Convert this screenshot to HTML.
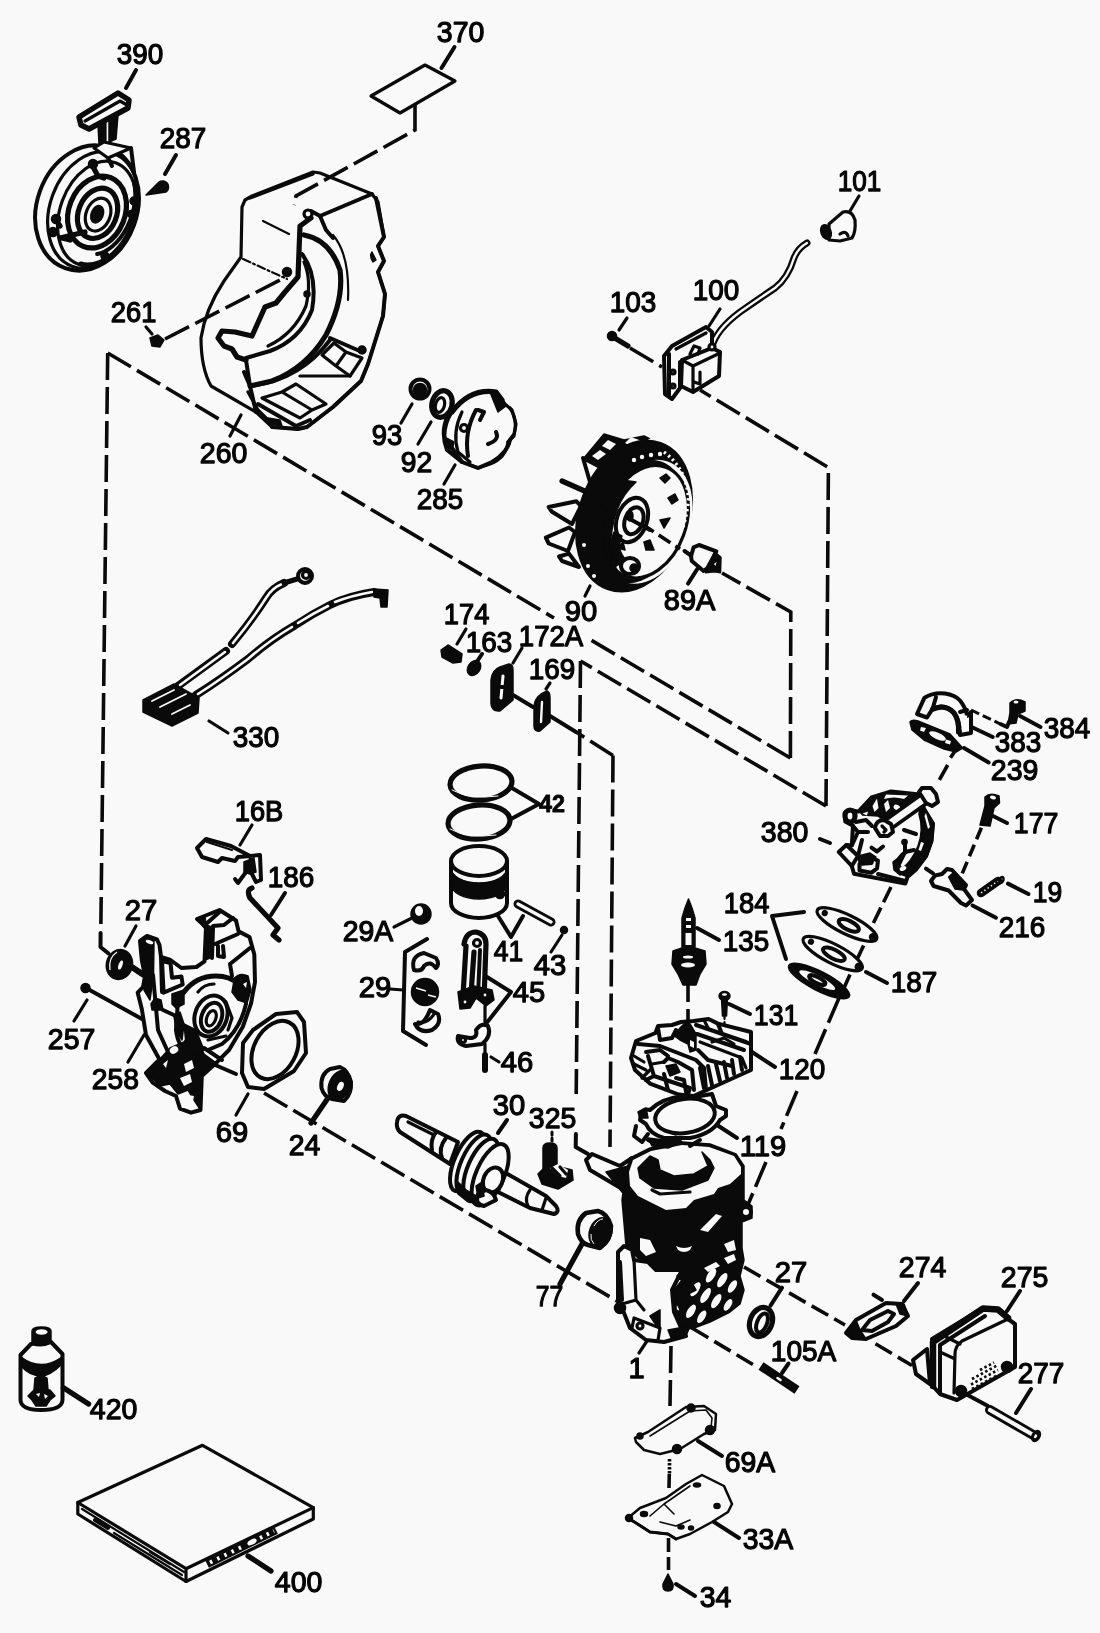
<!DOCTYPE html>
<html lang="en"><head><meta charset="utf-8"><title>Engine Parts Diagram</title>
<style>
html,body{margin:0;padding:0;background:#f9f9f9;}
svg{display:block;will-change:transform;}
text{font-family:"Liberation Sans",sans-serif;font-size:29px;fill:#050505;stroke:#050505;stroke-width:1.25px;stroke-linejoin:round;}
.l{fill:none;stroke:#0a0a0a;stroke-width:3.2;stroke-linecap:round;stroke-linejoin:round;}
.m{fill:none;stroke:#0a0a0a;stroke-width:4;stroke-linecap:round;stroke-linejoin:round;}
.h{fill:none;stroke:#0a0a0a;stroke-width:5.2;stroke-linecap:round;stroke-linejoin:round;}
.t{fill:none;stroke:#0a0a0a;stroke-width:2.2;stroke-linecap:round;stroke-linejoin:round;}
.d{fill:none;stroke:#0a0a0a;stroke-width:3.6;stroke-dasharray:27 7;}
.ds{fill:none;stroke:#0a0a0a;stroke-width:3.6;stroke-dasharray:17 6;}
.f{fill:#0a0a0a;stroke:#0a0a0a;stroke-width:1.5;stroke-linejoin:round;}
.w{fill:#f9f9f9;stroke:#0a0a0a;stroke-width:3.2;stroke-linejoin:round;stroke-linecap:round;}
.wt{fill:#f9f9f9;stroke:#0a0a0a;stroke-width:1.5;stroke-linejoin:round;}
.wm{fill:#f9f9f9;stroke:#0a0a0a;stroke-width:4;stroke-linejoin:round;}
.n{fill:#f9f9f9;stroke:none;}
</style></head><body>
<svg width="1100" height="1633" viewBox="0 0 1100 1633">
<rect width="1100" height="1633" fill="#f9f9f9"/>
<!-- 10_dash.svg -->
<g id="assembly-lines">
<path class="d" d="M107.7 353L100.8 930"/><path class="m" d="M100.6 933L100.5 947L108.5 953.5"/>
<path class="d" d="M107.7 353L554 618"/>
<path class="d" d="M790.4 758L590 639.5"/><path class="d" d="M790.4 758L790.8 612L722 573"/>
<path class="d" d="M826 806L580.5 661"/><path class="d" d="M826 806L828.4 467.5L700 390"/><path class="d" d="M580.5 661L576.2 1094"/><path class="m" d="M575.9 1134L575.7 1147L588 1154"/>
<path class="d" d="M613 755.5L576 732"/><path class="d" d="M613 755.5L610 1147"/>
<path class="ds" d="M956 749.5L950.5 757.7"/><path class="ds" d="M947.7 765L937 784"/>
<path class="ds" d="M891 887L868 934"/><path class="ds" d="M863.6 945.5L855.5 962.7"/><path class="ds" d="M850 974.5L842.7 991"/><path class="d" d="M839 998L815 1054"/>
<path class="d" d="M797 1091L781 1129"/>
<path class="d" d="M766 1162L747 1207"/>
<path class="ds" style="stroke-dasharray:12.5 6" d="M981.4 827.7L962 874"/>
<path class="d" d="M264 1093L622 1304"/>
<path class="d" style="stroke-dasharray:19 7" d="M744 1267L845 1325"/>
<path class="d" style="stroke-dasharray:19 7" d="M875.5 1343.8L912 1365.5"/>
<path class="d" style="stroke-dasharray:19 7" d="M692 1328L757 1367"/>
<path class="d" d="M671 1346L670 1406"/>
<path class="d" style="stroke-dasharray:2.5 1.5" d="M669.5 1459V1474"/><path class="d" d="M669.3 1474L669 1488"/>
<path class="d" style="stroke-dasharray:14 5" d="M668.5 1538V1570"/>
<path class="d" d="M688 975V1030"/>
<path class="ds" style="stroke-dasharray:9 4;stroke-width:3" d="M971 710L1001 724.3"/>
<path class="d" d="M630 348L662 367"/>
</g>
<!-- 20_recoil.svg -->
<g id="recoil-390">
<path class="m" d="M136 70L126 88"/>
<path class="m" d="M176 155L165 174"/>
<!-- handle -->
<path class="w" style="stroke-width:5.5" d="M79 117L118 93L129 100L128 108L89 129L81 125Z"/>
<path class="l" d="M85 121L120 101L127 105"/>
<path class="f" d="M98 124L104 121L105 143L99 144ZM109 119L118 115L116 139L109 142Z"/>
<path class="l" d="M105 122V142"/>
<!-- body -->
<g transform="rotate(20 87 208)">
<ellipse class="w" cx="87" cy="208" rx="50" ry="64" style="stroke-width:4"/>
</g>
<g transform="rotate(20 93 210)">
<ellipse class="l" cx="93" cy="210" rx="43" ry="60"/>
<ellipse class="l" cx="98" cy="212" rx="37" ry="54"/>
<path class="h" d="M130 184A37 54 0 0 1 100 265"/>
<path class="m" d="M122 170A30 48 0 0 1 112 250"/>
</g>
<path class="w" d="M94 148L104 142L131 148L108 158Z"/>
<path class="m" d="M131 148L134 172M108 158L112 166"/>
<!-- hub -->
<g transform="rotate(22 97 212)">
<ellipse class="h" cx="97" cy="212" rx="28" ry="37"/>
<ellipse class="h" cx="98" cy="213" rx="19" ry="26"/>
<ellipse class="l" cx="99" cy="214" rx="12" ry="17"/>
<ellipse class="f" cx="98" cy="214" rx="6" ry="9"/>
</g>
<path class="h" d="M92 165L98 176L104 178M70 240L62 238M56 220L60 226"/>
<circle class="f" cx="56" cy="219" r="4.5"/><circle class="f" cx="53" cy="232" r="4.5"/>
<circle class="f" cx="93" cy="164" r="4.5"/><circle class="f" cx="134" cy="201" r="4"/>
<circle class="f" cx="131" cy="214" r="3.5"/><circle class="f" cx="105" cy="256" r="4"/>
<path class="h" d="M60 238L85 232"/>
<!-- screw 287 -->
<path class="f" d="M146 195L159 182A5.5 5.5 0 1 1 166 192Z"/>
</g>
<!-- 21_housing.svg -->
<g id="housing-260">
<!-- outer silhouette -->
<path class="w" d="M242 207L245 200L252 196L313 172L320 173L372 194L378 202L384 237L378 246L384 261L378 272L385 294L383 316L368 364L361 381L333 407L307 427L298 429L272 427L256 412L211 386Q201 368 201 338Q205 310 224 281L241 257Z"/>
<!-- top face edges -->
<path class="m" d="M372 194L320 216L311 211"/>
<path class="l" d="M250 198L313 174"/>
<circle class="w" cx="308" cy="214" r="4"/>
<path class="m" d="M376 198L384 237L378 246L384 261L378 272L385 294L383 316L368 364L361 381L333 407L307 427L298 429L272 427"/>
<path class="f" d="M372 252Q369 256 373 262L376 260Z"/>
<!-- front opening thick -->
<path class="h" d="M311 218L300 226L298 277L285 292L276 303L265 307L252 336L235 332L222 331L218 338L224 346L232 349L237 357L246 360"/>
<path class="h" d="M304 235Q330 240 340 270Q344 300 326 335Q306 368 272 381L250 386"/>
<path class="m" d="M302 254Q318 275 312 310Q300 340 270 351L246 358"/>
<path class="l" d="M304 262Q312 280 306 306Q294 334 268 346"/>
<path class="t" d="M333 235Q350 255 348 300"/>
<path class="m" d="M320 216L326 230L333 238"/>
<path class="t" d="M263 221L289 234"/>
<path class="t" style="stroke-dasharray:8 3 2 3" d="M243 259L287 279"/>
<circle class="f" cx="287" cy="272" r="4.5"/>
<circle class="f" cx="307" cy="294" r="3"/>
<!-- lower section -->
<path class="m" d="M246 360L250 386L256 412M250 386L244 372"/>
<path class="l" d="M248 392L258 410L272 424"/>
<path class="m" d="M250 386Q300 380 330 340"/>
<path class="l" d="M322 355L334 343L346 352L336 366ZM336 366L350 376L362 358L346 352"/>
<path class="m" d="M330 338L362 352"/>
<circle class="f" cx="362" cy="350" r="4"/>
<path class="l" d="M262 398L300 418L312 410L282 392ZM282 392L296 384L326 404L312 410"/>
<path class="m" d="M258 404L296 426L310 420"/>
<path class="f" d="M268 418L280 420L282 426L270 424Z"/>
<path class="l" d="M300 376L350 376"/>
<!-- leader and screw 261 -->
<path class="l" d="M241 415L230 436"/>
<path class="f" d="M150 338L158 335L164 340L160 347L152 346Z"/>
<path class="l" d="M146 327L152 334"/>
</g>
<g id="decal-370">
<path class="w" d="M371 96L425 65L455 81L400 113Z"/>
<path class="m" d="M454.5 47L441.5 68"/>
<path class="d" d="M415 105V130L296 196L294 205"/>
<path class="d" d="M165 339L286 277"/>
</g>
<!-- 22_starter_cup.svg -->
<g id="nut-93">
<circle class="m" cx="420" cy="389" r="9.5"/>
<circle class="f" cx="420" cy="390" r="6.5"/>
<path class="l" d="M412 404L401 423"/>
</g>
<g id="washer-92">
<ellipse class="h" cx="442" cy="404" rx="10" ry="13.5" transform="rotate(15 442 404)"/>
<ellipse class="l" cx="440" cy="405" rx="4.5" ry="7.5" transform="rotate(15 440 405)"/>
<path class="l" d="M431 422L418 444"/>
</g>
<g id="cup-285">
<path class="w" d="M452 412Q470 388 496 392L505 404L512 410L516 424L514 436L508 442Q506 458 490 464L478 468L462 462L448 450Q440 432 452 412Z"/>
<path class="h" d="M452 412Q470 388 496 392L502 400"/>
<path class="f" d="M490 392L500 396L506 406L498 412L494 402Z"/>
<path class="m" d="M448 415Q440 432 447 450L462 462L478 468L492 462Q508 452 510 440"/>
<path class="l" d="M462 412Q452 432 458 452L470 462"/>
<path class="m" d="M476 410Q464 432 468 456"/>
<path class="l" d="M510 408Q518 420 514 434L508 442"/>
<circle class="l" cx="464" cy="428" r="3.5"/>
<path class="m" d="M447 440L452 448L462 462"/>
<path class="f" d="M446 438L454 442L452 450L446 446Z"/>
<path class="m" d="M478 410L484 412L480 420M496 432Q500 440 488 444"/>
<path class="l" d="M455 465L444 484"/>
</g>
<!-- 23_flywheel.svg -->
<g id="flywheel-90">
<!-- fan blades -->
<path class="f" d="M584 458L604 434L624 440L644 436L660 444L640 470L600 480Z"/>
<g class="n"><path d="M592 456L600 450L606 454L598 460Z"/><path d="M602 446L608 440L616 444L610 450Z"/><path d="M625 443L631 437L642 441L636 449Z"/><path d="M644 442L651 438L658 442L651 447Z"/><path d="M608 458L616 452L620 456L612 462Z"/></g>
<path class="wm" d="M583 458L590 482L604 469Z"/>
<path class="h" d="M562 481L588 492.5"/>
<path class="wm" d="M548.7 507L576.4 501.3L581 506L572 524L551.6 511.5Z"/>
<path class="wm" d="M545.8 537.6L569 527.5L575 532L568 551L548.7 543.5Z"/>
<path class="wm" d="M559 556.5L569 553.6L579 567L562 561Z"/>
<!-- rim -->
<g transform="rotate(20 634 516)">
<ellipse class="f" cx="634" cy="516" rx="55" ry="78"/>
</g>
<g transform="rotate(20 644 521)">
<ellipse class="n" cx="646" cy="521" rx="44" ry="64"/>
<ellipse class="f" cx="640" cy="523" rx="42" ry="63"/>
<ellipse class="w" cx="646" cy="521" rx="40" ry="58"/>
</g>
<!-- teeth on right edge -->
<path style="fill:none;stroke:#f9f9f9;stroke-width:3.4;stroke-dasharray:2.2 3.2" d="M664 452Q686 468 688.5 498Q686 536 662 562"/>
<!-- white dots on rim -->
<g fill="#f9f9f9"><circle cx="634" cy="460" r="2.2"/><circle cx="642" cy="457" r="2.2"/><circle cx="651" cy="455" r="2.2"/><circle cx="660" cy="454" r="2.2"/>
<circle cx="588" cy="566" r="2"/><circle cx="594" cy="576" r="2"/><circle cx="584" cy="545" r="2"/></g>
<!-- hub -->
<path class="f" d="M622 480Q604 500 604 540Q606 570 622 580Q606 560 612 530Q616 500 636 482Z"/>
<g transform="rotate(20 632 520)">
<ellipse class="m" cx="632" cy="520" rx="15" ry="23"/>
<ellipse class="m" cx="634" cy="520" rx="9" ry="14"/>
</g>
<path class="m" d="M628 518L650 530"/>
<ellipse class="f" cx="630" cy="516" rx="3" ry="5"/>
<ellipse class="m" cx="630" cy="566" rx="9" ry="8"/>
<circle class="f" cx="634" cy="568" r="4"/>
<path class="f" d="M614 532Q606 550 616 566L626 560Q616 550 622 536Z"/>
<!-- holes -->
<path class="f" d="M660 478l6-4 4 4-5 5zM668 498l7-4 3 6-6 4zM660 520l10-2-6 10zM644 542l6-2 4 10-8 0zM608 566l6-2 4 8-8 0zM618 548l5-6 2 8z"/>
<path class="l" d="M590 586L585 596"/>
</g>
<g id="key-89A">
<path class="d" style="stroke-dasharray:14 6" d="M642 524L680 549"/>
<path class="m" d="M684.5 551L691 555.5"/>
<path class="wm" d="M693.6 547.3L699 545L716.4 551.4L707.3 568.2L703.6 571L691.8 561L691 556.4Z"/>
<path class="f" d="M714.5 551.8L721 557.3L720.5 572.7L714.5 571.8L705.5 572.7L707.3 568.2Z"/>
<path class="n" d="M714 564L716.5 562L715.5 566Z"/>
<path class="m" d="M697.3 569L688 583.6"/>
</g>
<!-- 24_coil.svg -->
<g id="coil-100">
<circle class="f" cx="612" cy="336" r="4.5"/><path class="h" d="M613 337L628 346"/>
<path class="l" d="M627 318L619 330"/>
<!-- wire -->
<path style="fill:none;stroke:#0a0a0a;stroke-width:7;stroke-linecap:round" d="M712 347Q716 330 740 312Q760 298 775 288Q788 278 794 258Q798 248 807 243"/>
<path style="fill:none;stroke:#f9f9f9;stroke-width:2.4;stroke-linecap:round" d="M712 347Q716 330 740 312Q760 298 775 288Q788 278 794 258Q798 248 807 243"/>
<!-- bracket plate -->
<path class="wm" d="M664 356L672 346L706 327L712 332L712 348L680 362L680 388L672 399L665 394Z"/>
<path class="m" d="M669 354V396"/>
<path class="l" d="M676 349L706 333"/>
<circle class="l" cx="673" cy="372" r="2"/><circle class="l" cx="673" cy="386" r="2"/>
<!-- body -->
<path class="wm" d="M682 360L712 348L720 352L719 376L693 392L681 386Z"/>
<path class="l" d="M682 360L693 366L720 353M693 366V391"/>
<path class="l" d="M700 372V384L694 382"/>
<path class="l" d="M690 354L694 346L700 348L698 354"/>
<circle class="w" cx="712" cy="347" r="3"/>
<path class="l" d="M720 309L709 326"/>
</g>
<g id="boot-101">
<path class="w" d="M829 224L843 212Q852 210 855 220Q856 232 852 238L840 241L829 240Z"/>
<path class="l" d="M840 234Q846 230 848 236"/>
<ellipse class="f" cx="826" cy="232" rx="5" ry="7.5" transform="rotate(-20 826 232)"/>
<path class="l" d="M859 196L850 211"/>
</g>
<!-- 25_harness.svg -->
<g id="harness-330">
<g style="fill:none;stroke:#0a0a0a;stroke-width:8;stroke-linecap:round">
<path d="M178 686L226 651"/><path d="M232 644Q252 620 266 598Q272 588 284 583"/>
<path d="M196 695Q220 680 248 659Q270 640 294 626Q312 614 330 605Q348 596 374 592"/>
</g>
<g style="fill:none;stroke:#f9f9f9;stroke-width:2.6;stroke-linecap:round">
<path d="M180 685L225 652"/><path d="M233 643Q252 620 266 598Q272 588 282 584"/>
<path d="M198 694Q220 680 248 659Q270 640 292 627"/><path d="M298 623Q312 614 328 606"/><path d="M335 602Q350 596 372 592"/>
</g>
<circle class="m" cx="305" cy="576" r="7"/>
<circle class="l" cx="306" cy="575" r="3.5"/>
<path class="h" d="M284 583L297 579"/>
<path class="f" d="M374 589L388 590L387 607L381 607L380 598L374 597Z"/>
<path class="f" d="M143 700L174 684L199 698L198 713L172 726L143 712Z"/>
<g style="fill:none;stroke:#f9f9f9;stroke-width:1.8;stroke-linecap:round">
<path d="M152 701L174 690"/><path d="M160 707L186 694"/><path d="M172 714L190 705"/></g>
<path class="l" d="M209 721L228 733"/>
</g>
<!-- 26_reed.svg -->
<g id="reed-parts">
<path class="f" d="M441 650L448 645L462 654L461 662L453 663L442 657Z"/>
<path class="l" d="M466 629L457 644"/>
<ellipse class="f" cx="474" cy="668" rx="6" ry="8" transform="rotate(35 474 668)"/>
<path class="m" d="M482 654L476 663"/>
<!-- 172A -->
<path class="f" d="M491 680Q492 670 500 667L509 664Q513 664 513 670L513 700L500 711Q492 712 491 704Z"/>
<path style="stroke:#f9f9f9;stroke-width:3;stroke-linecap:round" d="M503 676L501 698"/>
<path class="m" d="M501 687h4"/>
<path class="l" d="M522 648L513 663"/>
<path class="m" d="M513 695L533 707"/>
<!-- 169 -->
<path class="f" d="M534 706Q535 698 541 694L547 691Q550 692 550 698L550 722L540 731Q534 732 534 726Z"/>
<path style="stroke:#f9f9f9;stroke-width:2.4;stroke-linecap:round" d="M542 702L541 722"/>
<path class="l" d="M550 683L546 689"/>
<path class="m" d="M550 716L576 732"/>
</g>
<!-- 27_piston.svg -->
<g id="rings-42">
<ellipse class="h" cx="481" cy="783" rx="31" ry="17" transform="rotate(-4 481 783)"/>
<ellipse class="h" cx="479" cy="822" rx="31" ry="17" transform="rotate(-4 479 822)"/>
<path class="t" style="stroke:#f9f9f9;stroke-width:1" d="M452 790Q470 800 498 796M450 829Q468 839 496 835"/>
<path class="m" d="M512 788L539 804L511 819"/>
</g>
<g id="piston-41">
<path class="wm" d="M451 861V903A28 15 0 0 0 507 903V861"/>
<path class="f" d="M451 868A28 15 0 0 0 507 868V884A28 15 0 0 1 451 884Z"/>
<ellipse class="wm" cx="479" cy="861" rx="28" ry="15"/>
<circle class="f" cx="500" cy="894" r="4.5"/>
<path style="fill:none;stroke:#0a0a0a;stroke-width:9;stroke-linecap:round" d="M518 904L551 922"/>
<path style="fill:none;stroke:#f9f9f9;stroke-width:3.4;stroke-linecap:round" d="M518 904L551 922"/>
<path class="m" d="M498 916L511 937L523 916"/>
<circle class="f" cx="564" cy="930" r="3.5"/>
<path class="l" d="M562 935L551 952"/>
</g>
<g id="rod-45">
<path class="h" d="M464 944Q466 932 476 932Q486 934 486 944L484 1000"/>
<path class="h" d="M466 946L463 996M474 952L471 994"/>
<path class="m" d="M480 950L478 996"/>
<circle class="w" cx="477" cy="943" r="3.5"/>
<path class="f" d="M458 992L474 986L492 990L494 1000L486 1006L476 998L470 1008L460 1009Z"/>
<circle class="w" cx="465" cy="1002" r="3"/><circle class="w" cx="485" cy="995" r="3"/>
<path class="m" d="M487 977L511 992L485 1025"/>
<path class="l" d="M485 1006V1022M485 1044V1052"/>
<path class="m" d="M458 1036Q456 1044 466 1046L482 1044Q492 1036 488 1026Q482 1022 476 1030Q478 1038 470 1038Z"/>
<circle class="l" cx="463" cy="1040" r="2.5"/>
<path style="stroke:#0a0a0a;stroke-width:6;stroke-linecap:round" d="M485 1055V1070"/>
<path class="l" d="M491 1057L499 1062"/>
</g>
<g id="bearing-29">
<circle class="f" cx="421" cy="914" r="10"/>
<ellipse class="n" cx="419" cy="911" rx="4" ry="5"/>
<path class="l" d="M394 927L412 918"/>
<path class="m" d="M427 939L405 952L403 1031L426 1045"/>
<path class="l" d="M390 989L403 990"/>
<path class="wm" d="M414 970Q410 956 424 953L436 958Q440 964 436 968Q430 960 424 966Q422 972 414 970Z"/>
<circle class="f" cx="425" cy="992" r="13.5"/>
<path style="stroke:#f9f9f9;stroke-width:1.6" d="M416 988L426 991M428 995L436 997"/>
<path class="wm" d="M415 1024Q424 1026 430 1010L438 1014Q442 1024 432 1030Q420 1034 415 1024Z"/>
<path class="l" d="M418 1022Q428 1024 434 1014"/>
</g>
<!-- 28_cover.svg -->
<g id="cover-258">
<!-- seal 27 -->
<path class="l" d="M136 926L125 946"/>
<ellipse class="f" cx="119.4" cy="964.5" rx="13" ry="15" transform="rotate(15 119.4 964.5)"/>
<path style="fill:none;stroke:#f9f9f9;stroke-width:1.3" d="M117 952Q108 958 110 970"/>
<ellipse class="n" cx="120.5" cy="965" rx="1.9" ry="4.8" transform="rotate(20 120.5 965)"/>
<path class="h" style="stroke-width:6" d="M132.6 967.5L143 974.6"/>
<!-- screw 257 -->
<circle class="f" cx="85.5" cy="988" r="4.5"/>
<path class="m" d="M86 988L142 1019"/>
<path class="l" d="M87 1000L74 1021"/>
<path class="l" d="M144 1035L128 1062"/>
<!-- body outline -->
<path class="wm" d="M140 941L147 936L157 939.5L159.5 945L161 957L170.5 960L181.4 968L196.4 967L204.5 961.4L206 927L197 919L219.5 910L236 920.5L238.6 931.4L249.5 937L254.3 954.5L255 982L251 1003.6L242.7 1027L229 1050L215.5 1063.6L201.8 1076L200.5 1110L191 1112.7L180 1108.6L176 1096L165 1091L152.7 1082.7L146 1073L159.5 1059.5L146 1035L141.8 1009L137.7 992.7L143 987L145 976L141.8 960Z"/>
<!-- post -->
<path class="f" d="M141 943L147 938L154 941L153.5 975L150 1000L144 990L146 976L143 960Z"/>
<ellipse class="n" cx="149.5" cy="942" rx="4" ry="1.8" transform="rotate(20 149.5 942)"/>
<path class="m" d="M153 975L158 1030L168 1052M161 957L162 992"/>
<!-- top right block -->
<path class="f" d="M197 919L205 916L206 925L212 927L210 958L205 960L206 930Z"/>
<path class="m" d="M205 925L219.5 912M213 926L224 925L233 918"/>
<path class="m" d="M213 928L212 958M215 944L238 934M218 946L218 956L224 957L223 946"/>
<!-- pocket -->
<path class="m" d="M162 961L170.5 963L172 977.7L181.4 976.4L182.7 984.5L163.6 992.7Z"/>
<!-- big ring and hub -->
<path class="h" d="M184 992Q196 976 216 976Q230 976 238 984"/>
<path class="m" d="M178 1000L176 1030Q178 1046 186 1050M246 1004Q240 1030 222 1044L208 1050"/>
<g transform="rotate(20 211 1016)">
<ellipse class="m" cx="211" cy="1016" rx="16" ry="21"/>
<ellipse class="m" cx="212" cy="1017" rx="10" ry="15"/>
<ellipse class="l" cx="212" cy="1018" rx="4.5" ry="8"/>
</g>
<path class="l" d="M198 992Q204 984 214 984M226 1002L232 1018L228 1030"/>
<path class="f" d="M234.5 978Q240 972 248 976L251 990L247 1003L238 1000L232 992Z"/>
<path class="n" d="M243 984L247 982L246 988Z"/>
<path class="m" d="M230 964L232 976M230 964L250 948"/>
<path class="f" d="M172 994L184 990L184 1004L176 1008L172 1004Z"/>
<path class="f" d="M151 1004L155 998L161 1000L163 1010L152 1010Z"/>
<path class="m" d="M163 1010L176 1016"/>
<path class="f" d="M174 1016L180 1012L184 1024L182 1040L176 1030Z"/>
<!-- lower black mass -->
<path class="f" d="M159.5 1059.5L170 1048L184 1042L190 1034L198 1040L204 1054L215 1062L201.8 1076L200.5 1110L194 1100L188 1090L178 1094L170 1084L160 1086L148 1074Z"/>
<path class="f" d="M184 1024L196 1030L204 1050L196 1056L186 1044Z"/>
<g class="n"><ellipse cx="174" cy="1050" rx="4.5" ry="3.5" transform="rotate(-30 174 1050)"/><path d="M163 1064L168 1060L166 1068Z"/><path d="M184 1064L192 1060L194 1068L186 1072Z"/><path d="M180 1078L190 1074L192 1082L184 1086Z"/><path d="M186 1100Q188 1094 194 1096L192 1106Z"/></g>
<path class="m" d="M204 1048L222 1060M199 1058L236 1074"/>
<path class="l" d="M208 1040L226 1036"/>
</g>
<g id="gasket-69">
<path class="wm" d="M243 1043L253 1030L276 1014L297 1012L304 1022L306 1053L294 1071L264 1089L248 1087L242 1073Z"/>
<ellipse class="m" cx="275" cy="1050" rx="21" ry="31" transform="rotate(28 275 1050)"/>
<path class="l" d="M248 1094L236 1115"/>
</g>
<g id="rod-186">
<path class="h" d="M252 888Q246 890 250 898L278 928L273 935L279 940"/>
<path class="m" d="M285 893L271 915"/>
</g>
<g id="lever-16B">
<path class="wm" d="M197 848L206 839L231 846L250 856L238 857L235 861L222 858L218 862L202 857Z"/>
<path class="t" d="M207 842L232 850"/>
<path class="wm" d="M250 856L260 855L261 880L256 882L251 872L252 862Z"/>
<path class="f" d="M244 862L254 858L256 872L250 874L244 872Z"/>
<path class="m" d="M246 872L238 883L235 879"/>
<path class="l" d="M252 825L240 845"/>
</g>
<!-- 29_crank.svg -->
<g id="bearing-24">
<path class="wm" d="M330 1069Q320 1074 321.5 1088Q324 1097 332 1099L344 1101Q352 1094 351 1082Q348 1070 340 1067Z"/>
<ellipse class="f" cx="339.5" cy="1085.5" rx="10.5" ry="15.5" transform="rotate(22 339.5 1085.5)"/>
<ellipse class="n" cx="340.4" cy="1086.4" rx="3" ry="4.8" transform="rotate(25 340.4 1086.4)"/>
<path class="h" d="M328 1098L311 1123"/>
</g>
<g id="crank-30">
<path class="wm" d="M397 1122Q398 1114 406 1116L458 1142L450 1164L400 1132Q396 1128 397 1122Z"/>
<path class="l" d="M408 1122L432 1134"/>
<path class="m" d="M436 1132Q430 1140 432 1150M446 1138Q438 1148 442 1158"/>
<path class="wm" d="M504 1172L546 1196L556 1206Q560 1212 554 1214L546 1212L530 1208L498 1192Z"/>
<path class="l" d="M530 1190Q524 1198 528 1206M546 1198L542 1210"/>
<g transform="rotate(24 480 1168)">
<ellipse class="wm" cx="466" cy="1167" rx="13" ry="32"/>
<ellipse class="wm" cx="473" cy="1167" rx="13" ry="32"/>
<ellipse class="wm" cx="481" cy="1168" rx="13" ry="32"/>
<ellipse class="wm" cx="492" cy="1170" rx="14" ry="33"/>
</g>
<path class="f" d="M456 1180L466 1190L476 1196L480 1204L468 1202L458 1194Z"/>
<ellipse class="wm" cx="493" cy="1180" rx="9.5" ry="13" transform="rotate(24 493 1180)"/>
<path class="wm" d="M478 1194Q474 1204 484 1206L496 1200Q494 1192 486 1190Z"/>
<path class="f" d="M476 1186L482 1182L484 1196L478 1198Z"/>
<path class="m" d="M507 1120L498 1133"/>
</g>
<g id="key-325">
<path class="f" d="M543 1148Q543 1143 550 1143Q557 1143 557 1148V1172H543Z"/>
<path class="f" d="M538 1174L548 1164L572 1170L573 1180L558 1189L542 1184Z"/>
<path class="n" d="M550 1168L558 1164L568 1170L566 1178L558 1176Z"/>
<path class="l" d="M552 1168L560 1176M560 1167L566 1174"/>
<path class="t" style="stroke-dasharray:3 3;stroke-width:3" d="M552 1132V1142"/>
</g>
<g id="bearing-77">
<path class="w" style="stroke-width:4.6" d="M586 1213Q576 1220 578 1234Q581 1243 588 1245L600 1248Q611 1240 611 1226Q607 1213 598 1211Z"/>
<ellipse class="f" cx="600.5" cy="1232.5" rx="11" ry="15" transform="rotate(18 600.5 1232.5)"/>
<path style="fill:none;stroke:#f9f9f9;stroke-width:1" d="M594 1226Q598 1219 603 1219M591 1234Q590 1240 594 1244"/>
<path class="h" d="M582 1244L560 1284"/>
</g>
<!-- 30_cylinder.svg -->
<g id="cylinder-1">
<!-- left arm -->

<path class="wm" d="M586 1160L592 1154L620 1166L632 1158L636 1176L624 1190L590 1170Z"/>
<path class="f" d="M606 1172L628 1166L630 1196L622 1192Z"/>
<!-- main black mass -->
<path class="f" d="M626 1172L630 1158L650 1148L682 1142L710 1144L736 1154L744 1166L744 1200L752 1206L752 1218L742 1222L742 1248L744 1260L740 1276L744 1290L740 1304L730 1312L710 1322L694 1328L682 1330L672 1312L674 1290L682 1280L660 1272L642 1262L626 1246L622 1200Z"/>
<!-- top white face -->
<path class="n" d="M629 1172L633 1160L651 1151L682 1145L709 1147L734 1156L741 1167L741 1174L730 1184L718 1188L714 1194L694 1200L686 1208L666 1210L654 1204L638 1196L630 1186Z"/>
<path class="f" d="M638 1168L650 1156L658 1160L660 1170L674 1176L694 1174L708 1166L702 1152L710 1160L714 1168L708 1180L682 1190L654 1188L640 1178Z"/>
<path class="l" d="M652 1190L660 1194L690 1192"/>
<!-- right lug -->
<circle class="wm" cx="746" cy="1212" r="5"/>
<!-- white highlights on black -->
<g class="n">
<path d="M700 1230L716 1214L722 1216L708 1232Z"/>
<path d="M676 1246Q684 1250 692 1246L690 1250Q684 1254 678 1250Z"/>
<path d="M640 1238L650 1240L656 1252L646 1256L640 1250Z"/>
<path d="M724 1244L734 1240L736 1250L728 1252Z"/>
<g transform="rotate(32 710 1296)">
<ellipse cx="700" cy="1278" rx="3.6" ry="8"/><ellipse cx="712" cy="1276" rx="3.6" ry="8"/><ellipse cx="724" cy="1276" rx="3.4" ry="7"/>
<ellipse cx="694" cy="1298" rx="3.6" ry="8"/><ellipse cx="706" cy="1298" rx="3.6" ry="8.5"/><ellipse cx="718" cy="1297" rx="3.6" ry="8"/><ellipse cx="730" cy="1294" rx="3.2" ry="6.5"/>
<ellipse cx="690" cy="1318" rx="3.4" ry="7"/><ellipse cx="702" cy="1319" rx="3.6" ry="7.5"/><ellipse cx="714" cy="1318" rx="3.4" ry="7"/>
</g>
<path d="M704 1268L716 1262L720 1266L708 1272Z"/><path d="M724 1258L734 1254L736 1260L728 1264Z"/>
<path d="M684 1286L692 1282L694 1286L686 1290Z"/>
</g>
<!-- crankcase white -->
<path class="wm" d="M618 1252L624 1246L632 1250L634 1260L648 1262L656 1270L682 1270L672 1290L674 1312L682 1330L686 1336L664 1342L646 1340L630 1328L622 1308L618 1300Z"/>
<path class="l" d="M634 1260L636 1300L622 1304M636 1300L644 1310"/>
<path class="m" d="M620 1262L622 1300"/>
<circle class="f" cx="620" cy="1308" r="5.5"/>
<path class="l" d="M634 1318L660 1328L658 1340M634 1318L632 1328"/>
<circle class="l" cx="640" cy="1326" r="3"/>
<path class="f" d="M650 1316L660 1310L660 1330L654 1322Z"/>
<path class="f" d="M672 1292L690 1280L696 1290L684 1296L690 1304L680 1310Z"/>
<path class="f" d="M668 1330L690 1326L686 1336L672 1340Z"/>
<path class="l" d="M678 1276L690 1268"/>
<path class="l" d="M647 1341L639 1353"/>
</g>
<g id="seal-27b">
<ellipse class="h" cx="761" cy="1322" rx="11" ry="15" transform="rotate(22 761 1322)"/>
<ellipse class="m" cx="762" cy="1323" rx="5" ry="10" transform="rotate(22 762 1323)"/>
<path class="m" d="M782 1287.6L770.5 1305.6"/>
</g>
<g id="stud-105A">
<path style="stroke:#0a0a0a;stroke-width:9;stroke-linecap:butt" d="M761 1366L797 1390"/>
<path style="stroke:#f9f9f9;stroke-width:2.6;stroke-linecap:round" d="M777.5 1378L780.5 1380"/>
<path class="m" d="M788.5 1363.5L782 1373"/>
</g>
<!-- 31_head.svg -->
<g id="plug-135">
<path class="f" d="M688.5 899L692 908L695 918L695 948L705 951L706 964L700 974L696 985L683 985L678 974L672 964L673 951L682 948L682 918L685 908Z"/>
<g class="n"><rect x="686" y="918" width="5" height="3"/><rect x="686" y="925" width="5" height="3"/><rect x="685.5" y="933" width="6" height="12"/>
<ellipse cx="688" cy="965" rx="7" ry="2.5"/><ellipse cx="688" cy="957" rx="5" ry="1.5"/></g>
<path class="m" d="M697 928L719 940"/>
</g>
<g id="screw-131">
<ellipse class="f" cx="724.5" cy="996" rx="5.5" ry="4.5"/><ellipse class="n" cx="724.5" cy="994.5" rx="2.5" ry="1.2"/><path class="f" d="M721.5 998H727.5L726.5 1016H722.5Z"/>
<path class="t" style="stroke-dasharray:3 3" d="M724.5 1016V1026"/>
<path class="m" d="M729 1004L750 1014"/>
</g>
<g id="head-120">
<path class="wm" d="M631 1058L636 1041L655.5 1033L658 1026L672 1025L681 1022L693.6 1021L708.6 1019L718 1023.6L751 1032L751 1070L693.6 1096L678.6 1094.5L650 1083.6L635 1070Z"/>
<!-- plug boss -->
<path class="f" d="M674.5 1036L680 1028L686 1022L690 1024L696 1034L696 1050L690 1052L688 1044L680 1040Z"/>
<path class="n" d="M690 1040L694 1042L694 1048L690 1046Z"/>
<!-- top-right fins -->
<path class="m" d="M696 1025L746 1042M697 1034L744 1050M718 1024L722 1034L751 1044"/>
<path class="l" d="M704 1020L708 1028M712 1042L724 1038L734 1044M700 1042L742 1058L746 1068"/>
<path class="m" d="M698 1050L708 1060L732 1066"/>
<!-- left side -->
<path class="m" d="M658 1028L660 1040L672 1038L676 1030"/>
<path class="m" d="M638 1044L660 1046L696 1060L704 1068L706 1090"/>
<path class="m" d="M646 1052L660 1050L668 1056M648 1056L654 1076L646 1080M654 1076L690 1088L688 1094"/>
<path class="l" d="M634 1056L644 1062M634 1064L646 1070M642 1078L650 1070M652 1064L664 1062"/>
<path class="m" d="M664 1062L668 1058L678 1062L692 1070L694 1090"/>
<path class="f" d="M666 1066L676 1064L680 1072L670 1076Z"/>
<path class="m" d="M664 1074L668 1090M676 1078L684 1080L686 1092"/>
<!-- front vertical fins -->
<path class="m" d="M700 1068L704 1088M708 1066L712 1085M716 1064L720 1081M724 1062L727 1078M732 1060L734 1074M740 1057L742 1070"/>
<path class="m" d="M752 1052L775 1067"/>
</g>
<g id="gasket-119">
<path class="wm" d="M641 1113Q644 1108 650 1110Q662 1098 684 1096L700 1096L712 1094L716 1106L726 1110L726 1116L720 1120Q712 1134 690 1138L664 1138Q650 1134 646 1124L640 1120Z"/>
<ellipse class="m" cx="685" cy="1116" rx="30" ry="17" transform="rotate(-8 685 1116)"/>
<path class="f" d="M638 1112L646 1108L648 1118L640 1118Z"/>
<path class="m" d="M636 1126L634 1136L642 1142L648 1134M648 1140L660 1146L680 1142M690 1146L700 1140"/>
<path class="f" d="M648 1138L664 1140L676 1136L682 1142L668 1148L652 1146Z"/>
<path class="m" d="M717 1125L737 1138"/>
</g>
<!-- 32_carb.svg -->
<g id="clamp-383">
<path class="wm" d="M917 714L924.5 697.7Q934 692 945 693.6Q955 695 960 700.5Q966 708 967 716L971 712L971 733L960 735Q960 722 955 714Q948 706 940 706.6L932.7 708.6L927 717.5Z"/>
<path class="m" d="M932.7 708.6L936 697M960 712L967 710"/>
<path class="h" d="M933 709Q946 704 954 713Q959 720 958.6 732"/>
<circle class="n" cx="965.5" cy="717" r="1.8"/><circle class="n" cx="963.5" cy="729" r="2"/>
<path class="m" d="M971.6 727L992.7 737"/>
<path class="f" d="M910 722Q912 719 918 721L950 734L962.7 748L956 752L944 749L924 740L912 730Z"/>
<ellipse class="n" cx="937.5" cy="736" rx="9" ry="3.2" transform="rotate(24 937.5 736)"/>
<path class="n" d="M921 727L926 728L924 732L920 730.5Z"/><path class="n" d="M946 739.5L951 741L950 744.5L945 743Z"/>
<path class="m" d="M964 748L988.6 762.5"/>
</g>
<g id="screw-384">
<path class="f" d="M1010 703Q1016 697 1025 702L1025 711L1018 714L1016 723L1008 724L1010 713Z"/>
<ellipse class="n" cx="1016" cy="702" rx="2.5" ry="1.5"/>
<path class="m" d="M1020 716L1040.5 727"/>
<path class="m" d="M1001 724.3L1007 727L1009 722"/>
</g>
<g id="carb-380">
<path class="wm" d="M871.5 797.5L891 791.5L917.3 794.2L925 810.5L933 823.6L931.5 841L926 856.4L916 869.5L907.5 877L905.3 883.6L854 873.8L851.8 866L838.7 852L846.4 845L851.8 845.5L853 825.8L845.3 821.5L844.7 812.7L850.7 810L858.4 811.6Z"/>
<!-- top black region -->
<path class="f" d="M871.5 797.5L891 791.5L917.3 794.2L910.7 801.8L895.5 816L886.7 821.5L878 816L862.7 815L859.5 811.6Z"/>
<g class="n"><path d="M872.5 806L877 798.5L878.5 808L874.5 812Z"/><ellipse cx="897" cy="807.5" rx="3.6" ry="2.6" transform="rotate(30 897 807.5)"/><path d="M862.5 813.5L868 811.5L867 815.5Z"/><path d="M884 804L888 800L890 808L886 812Z"/><path d="M886 794.5L908 795.5L904 799Q894 796 884 799Z"/></g>
<!-- right crescent -->
<path class="f" d="M921 803L926 810.5L934 823.6L932.5 841L927 856.4L917 869.5L908 877L898 873Q912 862 918 846Q924 830 919 814Z"/>
<g class="n"><path d="M926 813L930 827L928 829L924.5 816Z"/><path d="M921 842L924 843L921 851L918.5 850Z"/></g>
<!-- inner -->
<path class="m" d="M904 830L916 834M905 842L905 852L898 866M905 852L914 850"/>
<circle class="f" cx="904.5" cy="842" r="2.6"/>
<path class="m" d="M896 868Q898 856 906 852M902 870L912 862"/>
<path class="f" d="M893 862L898 858L900 866L906 872L900 875L894 870Z"/>
<ellipse class="n" cx="903" cy="868.5" rx="3.5" ry="2.2" transform="rotate(-25 903 868.5)"/>
<!-- left ear + arms -->
<ellipse class="h" cx="850" cy="816" rx="5" ry="6"/>
<path class="m" d="M853 826L858 832L868 832M856 822L866 820L872 826M858 832L852 845"/>
<path class="m" d="M862 840L858 856"/>
<!-- flange -->
<path class="m" d="M846.4 845L858 856L851.8 866"/>
<!-- small box -->
<path class="wm" d="M859.5 864L871.5 863L872.5 858.5L878 860.7L877 868.4L871.5 872.7L859.5 870.5Z"/>
<path class="f" d="M858 856L870 853L876 857L872.5 858.5L871.5 863L859.5 864Z"/>
<path class="m" d="M871.5 847.6L877 851.5L883 846.5"/>
<path class="m" d="M878 874L905 881"/>
<!-- throttle shaft -->
<path style="stroke:#0a0a0a;stroke-width:14;stroke-linecap:butt" d="M886 826L924 799"/>
<path style="stroke:#f9f9f9;stroke-width:6.5;stroke-linecap:butt" d="M884 827.5L926 797.5"/>
<path class="wm" d="M875 828Q876 820 884 820L891 824L893 832L888 836L880 836Z"/>
<path class="l" d="M882 826L886 830L884 832"/>
<path class="wm" d="M919 792L922 788L931 788L936 794L938 802L932 806L926 803Z"/>
<path class="m" d="M820 839L830 843"/>
</g>
<g id="screw-177">
<path class="f" d="M985 797Q990 792 999 796L999.5 803L994 808L990 826L980 825L985 806Z"/>
<ellipse class="n" cx="993" cy="797.5" rx="3" ry="1.8" transform="rotate(15 993 797.5)"/>
<path class="m" d="M993 816L1007 823"/>
</g>
<g id="lever-216">
<path class="wm" d="M931 881L935 875.5L942 874L947 869L952 870L966 885L964 889L972 900L966 905.5L961 903L948.6 890.5L933.6 886Z"/>
<path class="f" d="M948.6 877L953 873L966 885L963 890L955 889Z"/>
<path class="m" d="M972.5 905.5L996 917.7"/>
<path class="m" d="M926 868.6L933 873.4"/>
</g>
<g id="spring-19">
<path style="stroke:#0a0a0a;stroke-width:8.5;stroke-linecap:round" d="M981 893L998 881"/>
<path style="stroke:#f9f9f9;stroke-width:1.4;stroke-dasharray:1.5 2.5" d="M981 893L998 881"/>
<path class="l" style="stroke-width:2.4" d="M998 880Q1004 874 1003.5 880Q1002 884 998 883"/>
<path class="m" d="M1008 883.6L1028.4 894"/>
</g>
<!-- 33_gaskets.svg -->
<g id="gaskets-184">
<g transform="rotate(26 847 924.5)">
<ellipse class="w" cx="847" cy="924.5" rx="33" ry="9.5"/>
<ellipse class="m" cx="849" cy="924.5" rx="11" ry="4.5"/>
<circle class="f" cx="876" cy="924.5" r="3.5"/><circle class="l" cx="822" cy="924" r="1.5"/>
</g>
<g transform="rotate(27 832.7 953.6)">
<ellipse class="w" cx="832.7" cy="953.6" rx="33" ry="9.5"/>
<ellipse class="m" cx="834" cy="953.6" rx="12" ry="4.5"/>
<circle class="f" cx="862" cy="953.6" r="3.5"/><circle class="l" cx="808" cy="953" r="1.5"/>
</g>
<g transform="rotate(27 819 981)">
<ellipse class="f" cx="819" cy="981" rx="34" ry="9.5"/>
<ellipse class="n" cx="817" cy="981" rx="20" ry="4.5"/>
<ellipse class="m" cx="817" cy="981" rx="9" ry="3"/>
</g>
<path class="m" d="M804 912L772 916L786 959"/>
<path class="m" d="M866 972L887 983"/>
</g>
<!-- 34_muffler.svg -->
<g id="gasket-274">
<path class="wm" d="M846 1333L856 1320L886 1303L902 1304L908 1316L896 1326L866 1339L852 1338Z"/>
<path class="f" d="M846 1333L856 1320L860 1330L866 1339L852 1338Z"/>
<path class="f" d="M896 1304L904 1304L908 1316L900 1314Z"/>
<path class="m" d="M862 1330L870 1320L888 1311L894 1314L888 1322L872 1331Z"/>
<path class="m" d="M918 1283L904 1301"/>
<path class="m" d="M873.5 1294.7L882 1300"/>
</g>
<g id="muffler-275">
<path class="wm" d="M913 1360L927 1349L930 1384L916 1374Z"/>
<path class="wm" d="M932 1339L983 1308L998 1309L1008 1319L1015 1324L1015 1367L957 1400L940 1394L932 1385Z"/>
<path class="h" style="stroke-width:6.5" d="M933 1386L933 1342L983 1308.5L998 1309.5L1008 1318"/>
<path class="m" d="M940 1392L940 1345L985 1316"/>
<path class="l" d="M1008 1319L962 1341Q955 1346 955 1354L954 1393"/>
<path class="l" d="M946 1337L960 1344M940 1352L953 1358"/>
<circle class="f" cx="1007" cy="1367" r="5.5"/><circle class="f" cx="961" cy="1391" r="5.5"/>
<g style="stroke:#0a0a0a;stroke-width:2.6;stroke-dasharray:2.5 2.5;fill:none">
<path d="M972 1379L998 1365"/><path d="M971 1384.5L998 1370"/><path d="M972 1389L996 1376"/><path d="M980 1370L994 1362.5"/>
</g>
<path class="m" d="M1020 1291L1007 1311"/>
</g>
<g id="bolt-277">
<path class="m" d="M962 1392L988 1406"/>
<path style="stroke:#0a0a0a;stroke-width:10;stroke-linecap:round" d="M990 1410L1035 1436"/>
<path style="stroke:#f9f9f9;stroke-width:4.2;stroke-linecap:round" d="M990 1410L1035 1436"/>
<ellipse class="l" cx="1036" cy="1436" rx="3" ry="5" transform="rotate(30 1036 1436)"/>
<path class="m" d="M1031 1389L1016 1413"/>
</g>
<!-- 35_bottom.svg -->
<g id="gasket-69A">
<path class="t" style="stroke-width:2.5" d="M635 1438L648 1432L686 1407L704 1406L716 1414L715 1430L704 1434L680 1449L660 1454L644 1450L636 1442Z"/>
<path class="t" style="stroke-width:1.6" d="M650 1436L690 1411L706 1410L712 1418L711 1428"/>
<circle class="f" cx="691" cy="1408" r="4"/><circle class="f" cx="710" cy="1430" r="4.5"/><circle class="f" cx="677" cy="1449" r="4.5"/><circle class="f" cx="640" cy="1436" r="3"/>
<path class="m" d="M698 1441L722 1456"/>
</g>
<g id="cover-33A">
<path class="w" style="stroke-width:2.5" d="M628 1518L640 1508L666 1498L686 1484L702 1475L724 1486L732 1504L728 1512L712 1522L690 1534L676 1539L668 1534L650 1532L636 1523Z"/>
<path class="l" d="M628 1518L636 1523L650 1532L668 1534L676 1539"/>
<path class="t" style="stroke-width:1.6" d="M650 1516L664 1504L690 1486M664 1504L674 1514M660 1522L676 1526L690 1520"/>
<circle class="f" cx="629" cy="1518" r="3.5"/><ellipse class="f" cx="644" cy="1514" rx="3.5" ry="2.5"/><ellipse class="f" cx="697" cy="1485" rx="3.5" ry="2"/><ellipse class="f" cx="717" cy="1506" rx="3" ry="2.5"/><ellipse class="f" cx="681" cy="1527" rx="3" ry="2"/><ellipse class="f" cx="691" cy="1528" rx="2.5" ry="2"/>
<path class="m" d="M714 1522L739 1538"/>
</g>
<g id="screw-34">
<path class="f" d="M668 1574L673 1584Q674 1591 668 1591Q662 1591 663 1584Z"/>
<path class="m" d="M676 1584L695 1596"/>
</g>
<!-- 36_misc.svg -->
<g id="bottle-420">
<path class="wm" d="M31 1344L20.5 1355V1400Q21 1410 41 1410Q62 1410 62.5 1400V1354L51 1342Z"/>
<path class="f" d="M32 1331Q32 1327 41.5 1327Q51 1327 51 1331V1343Q41 1348 32 1344Z"/>
<ellipse class="n" cx="41.6" cy="1332" rx="6" ry="2.8"/>
<path class="f" d="M21 1357Q41 1372 62 1357L62 1364Q50 1376 41 1376Q30 1376 21 1366Z"/>
<path class="f" d="M35 1378Q41 1374 47 1378L48 1390L34 1390Z"/>
<path class="f" d="M28 1396L34 1390L50 1390L55 1396L50 1400L46 1406L36 1406L32 1400Z"/>
<g class="n"><path d="M36 1394L40 1393L39 1397Z"/><path d="M44 1394L48 1396L45 1399Z"/></g>
<path class="h" d="M63.4 1387.7L88.6 1404"/>
</g>
<g id="manual-400">
<path class="w" d="M77.8 1502.5L202.5 1445.3L313.3 1507.6L313.3 1519L186 1581.5L77.8 1514Z"/>
<path class="l" d="M77.8 1502.5L186 1568.7L313.3 1507.6M186 1568.7V1581.5"/>
<path class="t" d="M82 1509L184 1572"/>
<path class="m" d="M95 1520L108 1528"/><path class="t" d="M114 1533L182 1575M150 1552L170 1564"/>
<path style="stroke:#0a0a0a;stroke-width:8.5;fill:none" d="M207 1564L276 1530"/>
<path style="stroke:#f9f9f9;stroke-width:4;stroke-dasharray:2.5 5.5;fill:none" d="M210 1562.5L246 1545"/>
<ellipse class="n" cx="252" cy="1542" rx="5" ry="2.6" transform="rotate(-26 252 1542)"/>
<path style="stroke:#f9f9f9;stroke-width:4;stroke-dasharray:2.5 5;fill:none" d="M260 1538L274 1531"/>
<path class="h" d="M248 1556L271 1571"/>
</g>
<!-- 90_labels.svg -->
<g id="labels" opacity=".996">
<text x="116.8" y="64" textLength="46.5" lengthAdjust="spacingAndGlyphs">390</text>
<text x="159.8" y="148" textLength="46.5" lengthAdjust="spacingAndGlyphs">287</text>
<text x="436.8" y="41.5" textLength="47.5" lengthAdjust="spacingAndGlyphs">370</text>
<text x="110.8" y="321.5" textLength="45.5" lengthAdjust="spacingAndGlyphs">261</text>
<text x="199.8" y="462.5" textLength="47.5" lengthAdjust="spacingAndGlyphs">260</text>
<text x="371.8" y="444.5" textLength="30.5" lengthAdjust="spacingAndGlyphs">93</text>
<text x="400.8" y="471.5" textLength="31.5" lengthAdjust="spacingAndGlyphs">92</text>
<text x="416.8" y="508.5" textLength="46.5" lengthAdjust="spacingAndGlyphs">285</text>
<text x="837.8" y="190.5" textLength="43.5" lengthAdjust="spacingAndGlyphs">101</text>
<text x="692.8" y="299.5" textLength="46.5" lengthAdjust="spacingAndGlyphs">100</text>
<text x="609.8" y="311.5" textLength="46.5" lengthAdjust="spacingAndGlyphs">103</text>
<text x="232.8" y="746.5" textLength="46.5" lengthAdjust="spacingAndGlyphs">330</text>
<text x="234.8" y="820.5" textLength="48.5" lengthAdjust="spacingAndGlyphs">16B</text>
<text x="267.8" y="886.5" textLength="46.5" lengthAdjust="spacingAndGlyphs">186</text>
<text x="124.8" y="919.5" textLength="32.5" lengthAdjust="spacingAndGlyphs">27</text>
<text x="443.8" y="623.5" textLength="45.5" lengthAdjust="spacingAndGlyphs">174</text>
<text x="465.8" y="651.5" textLength="46.5" lengthAdjust="spacingAndGlyphs">163</text>
<text x="518.8" y="645.5" textLength="64.5" lengthAdjust="spacingAndGlyphs">172A</text>
<text x="528.8" y="678.5" textLength="46.5" lengthAdjust="spacingAndGlyphs">169</text>
<text x="342.8" y="940.5" textLength="50.5" lengthAdjust="spacingAndGlyphs">29A</text>
<text x="358.8" y="996.5" textLength="32.5" lengthAdjust="spacingAndGlyphs">29</text>
<text x="493.8" y="960.5" textLength="29.5" lengthAdjust="spacingAndGlyphs">41</text>
<text x="512.8" y="1001.5" textLength="32.5" lengthAdjust="spacingAndGlyphs">45</text>
<text x="533.8" y="974.5" textLength="32.5" lengthAdjust="spacingAndGlyphs">43</text>
<text x="663.8" y="609.5" textLength="51.5" lengthAdjust="spacingAndGlyphs">89A</text>
<text x="564.8" y="620.5" textLength="32.5" lengthAdjust="spacingAndGlyphs">90</text>
<text x="1043.8" y="737.5" textLength="46.5" lengthAdjust="spacingAndGlyphs">384</text>
<text x="994.8" y="751.5" textLength="46.5" lengthAdjust="spacingAndGlyphs">383</text>
<text x="990.8" y="779.5" textLength="47.5" lengthAdjust="spacingAndGlyphs">239</text>
<text x="760.8" y="841.5" textLength="47.5" lengthAdjust="spacingAndGlyphs">380</text>
<text x="1013.8" y="832.5" textLength="44.5" lengthAdjust="spacingAndGlyphs">177</text>
<text x="1032.8" y="901.5" textLength="29.5" lengthAdjust="spacingAndGlyphs">19</text>
<text x="998.8" y="936.5" textLength="46.5" lengthAdjust="spacingAndGlyphs">216</text>
<text x="723.8" y="912.5" textLength="45.5" lengthAdjust="spacingAndGlyphs">184</text>
<text x="722.8" y="950.5" textLength="46.5" lengthAdjust="spacingAndGlyphs">135</text>
<text x="890.8" y="991.5" textLength="46.5" lengthAdjust="spacingAndGlyphs">187</text>
<text x="47.8" y="1048.5" textLength="47.5" lengthAdjust="spacingAndGlyphs">257</text>
<text x="91.8" y="1088.5" textLength="47" lengthAdjust="spacingAndGlyphs">258</text>
<text x="215.8" y="1141.5" textLength="32.5" lengthAdjust="spacingAndGlyphs">69</text>
<text x="288.8" y="1154.5" textLength="31.5" lengthAdjust="spacingAndGlyphs">24</text>
<text x="500.8" y="1071.5" textLength="32.5" lengthAdjust="spacingAndGlyphs">46</text>
<text x="492.8" y="1114.5" textLength="32.5" lengthAdjust="spacingAndGlyphs">30</text>
<text x="528.8" y="1127.5" textLength="47.5" lengthAdjust="spacingAndGlyphs">325</text>
<text x="535.8" y="1305.5" textLength="27.5" lengthAdjust="spacingAndGlyphs">77</text>
<text x="89.8" y="1418.5" textLength="47.5" lengthAdjust="spacingAndGlyphs">420</text>
<text x="274.8" y="1591.5" textLength="47.5" lengthAdjust="spacingAndGlyphs">400</text>
<text x="753.8" y="1024.5" textLength="44.5" lengthAdjust="spacingAndGlyphs">131</text>
<text x="778.8" y="1078.5" textLength="46.5" lengthAdjust="spacingAndGlyphs">120</text>
<text x="739.8" y="1155.5" textLength="46.5" lengthAdjust="spacingAndGlyphs">119</text>
<text x="774.8" y="1281.5" textLength="32.5" lengthAdjust="spacingAndGlyphs">27</text>
<text x="898.8" y="1276.5" textLength="47.5" lengthAdjust="spacingAndGlyphs">274</text>
<text x="1000.8" y="1286.5" textLength="47.5" lengthAdjust="spacingAndGlyphs">275</text>
<text x="1017.8" y="1382.5" textLength="46.5" lengthAdjust="spacingAndGlyphs">277</text>
<text x="770.8" y="1360.5" textLength="65.5" lengthAdjust="spacingAndGlyphs">105A</text>
<text x="724.8" y="1471.5" textLength="50.5" lengthAdjust="spacingAndGlyphs">69A</text>
<text x="742.8" y="1548.5" textLength="50.5" lengthAdjust="spacingAndGlyphs">33A</text>
<text x="699.8" y="1606.5" textLength="31.5" lengthAdjust="spacingAndGlyphs">34</text>
<text x="539" y="812" textLength="26" lengthAdjust="spacingAndGlyphs" style="font-weight:bold;font-size:23px;stroke-width:.8px">42</text>
<text x="628.5" y="1378">1</text>
</g>
</svg>
</body></html>
